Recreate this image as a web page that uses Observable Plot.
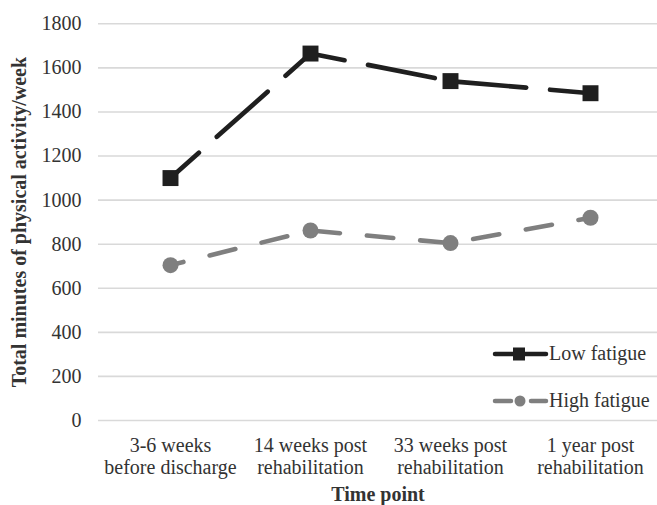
<!DOCTYPE html>
<html>
<head>
<meta charset="utf-8">
<script src="https://cdn.jsdelivr.net/npm/d3@7"></script>
<script src="https://cdn.jsdelivr.net/npm/@observablehq/plot@0.6"></script>
<style>
  html, body { margin: 0; padding: 0; background: #fff; }
  #chart { position: relative; width: 657px; height: 505px; }
  #chart svg, #chart text { font-family: "Liberation Serif", "Times New Roman", serif !important; }
  #legend { position: absolute; left: 480px; top: 330px; }
</style>
</head>
<body>
<div id="chart"></div>
<script>
const timePoints = ["3-6 weeks\nbefore discharge", "14 weeks post\nrehabilitation", "33 weeks post\nrehabilitation", "1 year post\nrehabilitation"];
const lowFatigue = [1100, 1665, 1540, 1485];
const highFatigue = [705, 862, 805, 920];
const yTicks = [0, 200, 400, 600, 800, 1000, 1200, 1400, 1600, 1800];
const seriesNames = ["Low fatigue", "High fatigue"];
const yTitle = "Total minutes of physical activity/week";
const xTitle = "Time point";

const lowData = timePoints.map((t, i) => ({time: t, value: lowFatigue[i]}));
const highData = timePoints.map((t, i) => ({time: t, value: highFatigue[i]}));

const lowColor = "#1f1f1f";
const highColor = "#7f7f7f";
const textColor = "#333333";
const serif = "Liberation Serif, Times New Roman, serif";

const plot = Plot.plot({
  width: 657,
  height: 505,
  marginLeft: 98,
  marginRight: 0,
  marginTop: 23.3,
  marginBottom: 85,
  style: {fontFamily: serif, fontSize: "20px", color: textColor, background: "white"},
  x: {type: "point", domain: timePoints, range: [98.5, 662], padding: 0.5, label: null},
  y: {domain: [0, 1800], label: null},
  marks: [
    Plot.ruleY(yTicks, {stroke: "#d9d9d9", strokeWidth: 1.6}),
    Plot.axisY(yTicks, {tickSize: 0, tickPadding: 17, fontSize: 20, label: null, fill: textColor, tickFormat: d => String(d)}),
    Plot.axisX({tickSize: 0, tickPadding: 16, fontSize: 20, lineHeight: 1.1, label: null, fill: textColor}),
    Plot.line(highData, {x: "time", y: "value", stroke: highColor, strokeWidth: 4.6, strokeDasharray: "26.5,27", strokeDashoffset: 13.2, strokeLinecap: "round", strokeLinejoin: "round"}),
    Plot.line(lowData, {x: "time", y: "value", stroke: lowColor, strokeWidth: 4.7, strokeDasharray: "68,24", strokeDashoffset: 30, strokeLinecap: "round", strokeLinejoin: "round"}),
    Plot.dot(highData, {x: "time", y: "value", r: 8, fill: highColor, stroke: "none", symbol: "circle"}),
    Plot.dot(lowData, {x: "time", y: "value", r: 9, fill: lowColor, stroke: "none", symbol: "square"}),
    Plot.text([yTitle], {frameAnchor: "left", textAnchor: "middle", rotate: -90, dx: -87, lineAnchor: "top", fontWeight: "bold", fontSize: 20, fill: textColor}),
    Plot.text([xTitle], {frameAnchor: "bottom", dy: 73.6, lineAnchor: "middle", fontWeight: "bold", fontSize: 20, fill: textColor})
  ]
});
document.getElementById("chart").appendChild(plot);

// Legend (inside plot area, lower right)
const legend = d3.select("#chart").append("svg")
  .attr("id", "legend")
  .attr("width", 177).attr("height", 90)
  .style("font-size", "20px");

const rows = [
  {name: seriesNames[0], color: lowColor, y: 24, dashed: false},
  {name: seriesNames[1], color: highColor, y: 71, dashed: true}
];
rows.forEach(r => {
  const g = legend.append("g");
  if (r.dashed) {
    g.append("line").attr("x1", 15).attr("x2", 31).attr("y1", r.y).attr("y2", r.y)
      .attr("stroke", r.color).attr("stroke-width", 4.5).attr("stroke-linecap", "round");
    g.append("line").attr("x1", 51).attr("x2", 66).attr("y1", r.y).attr("y2", r.y)
      .attr("stroke", r.color).attr("stroke-width", 4.5).attr("stroke-linecap", "round");
    g.append("circle").attr("cx", 40).attr("cy", r.y).attr("r", 5.5).attr("fill", r.color);
  } else {
    g.append("line").attr("x1", 15).attr("x2", 66).attr("y1", r.y).attr("y2", r.y)
      .attr("stroke", r.color).attr("stroke-width", 4.5).attr("stroke-linecap", "round");
    g.append("rect").attr("x", 33).attr("y", r.y - 6.5).attr("width", 12).attr("height", 13).attr("fill", r.color);
  }
  g.append("text").attr("x", 69).attr("y", r.y + 5.5).attr("fill", textColor).text(r.name);
});
</script>
</body>
</html>
